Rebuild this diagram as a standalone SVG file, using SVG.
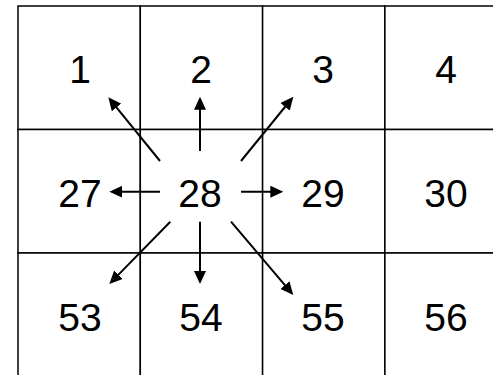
<svg xmlns="http://www.w3.org/2000/svg" width="493" height="375" viewBox="0 0 493 375">
<style>
.cell{fill:#fff;stroke:#000;stroke-width:1.5}
.lbl{font-family:"Liberation Sans",Arial,sans-serif;font-size:39px;fill:#000;text-anchor:middle}
.arr{stroke:#000;stroke-width:2;fill:none;marker-end:url(#ah)}
</style>
<defs>
<marker id="ah" markerUnits="userSpaceOnUse" markerWidth="14" markerHeight="12" refX="3" refY="6" orient="auto">
<path d="M0,0 L13,6 L0,12 z" fill="#000"/>
</marker>
</defs>
<rect width="493" height="375" fill="#fff"/>
<g id="n1"><rect class="cell" x="18" y="6" width="122.3" height="123.5"/><text class="lbl" x="80" y="83">1</text></g>
<g id="n2"><rect class="cell" x="140.3" y="6" width="122.3" height="123.5"/><text class="lbl" x="201" y="83">2</text></g>
<g id="n3"><rect class="cell" x="262.6" y="6" width="122.3" height="123.5"/><text class="lbl" x="323" y="83">3</text></g>
<g id="n4"><rect class="cell" x="384.9" y="6" width="122.3" height="123.5"/><text class="lbl" x="446" y="83">4</text></g>
<g id="n27"><rect class="cell" x="18" y="129.5" width="122.3" height="123.5"/><text class="lbl" x="80" y="207">27</text></g>
<g id="n28"><rect class="cell" x="140.3" y="129.5" width="122.3" height="123.5"/><text class="lbl" x="200" y="207">28</text></g>
<g id="n29"><rect class="cell" x="262.6" y="129.5" width="122.3" height="123.5"/><text class="lbl" x="323" y="207">29</text></g>
<g id="n30"><rect class="cell" x="384.9" y="129.5" width="122.3" height="123.5"/><text class="lbl" x="446" y="207">30</text></g>
<g id="n53"><rect class="cell" x="18" y="253" width="122.3" height="123.5"/><text class="lbl" x="80" y="331">53</text></g>
<g id="n54"><rect class="cell" x="140.3" y="253" width="122.3" height="123.5"/><text class="lbl" x="201" y="331">54</text></g>
<g id="n55"><rect class="cell" x="262.6" y="253" width="122.3" height="123.5"/><text class="lbl" x="323" y="331">55</text></g>
<g id="n56"><rect class="cell" x="384.9" y="253" width="122.3" height="123.5"/><text class="lbl" x="446" y="331">56</text></g>
<g id="connectors">
<line class="arr" x1="200" y1="151" x2="200" y2="106.7"/>
<line class="arr" x1="200" y1="221.7" x2="200" y2="274"/>
<line class="arr" x1="160" y1="191.7" x2="119.3" y2="191.7"/>
<line class="arr" x1="241" y1="191.7" x2="273.3" y2="191.7"/>
<line class="arr" x1="160" y1="161" x2="114.6" y2="105.1"/>
<line class="arr" x1="241" y1="161" x2="287" y2="104.5"/>
<line class="arr" x1="170.3" y1="221.7" x2="116.3" y2="276.9"/>
<line class="arr" x1="231" y1="221.7" x2="286.8" y2="287.4"/>
</g>
</svg>
